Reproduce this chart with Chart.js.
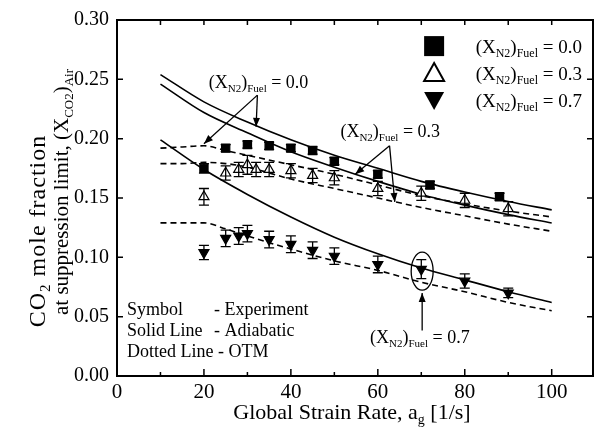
<!DOCTYPE html>
<html>
<head>
<meta charset="utf-8">
<script src="https://cdn.jsdelivr.net/npm/chart.js@4.4.0/dist/chart.umd.min.js"></script>
<style>
  html, body { margin: 0; padding: 0; background: #fff; }
</style>
</head>
<body>
<canvas id="chart" width="600" height="431"></canvas>
<script>
// Model curves (adiabatic = solid, OTM = dashed)
const strainAdi = [10, 20, 30, 40, 50, 60, 70, 80, 90, 100];
const adi00 = [0.254, 0.231, 0.214, 0.199, 0.186, 0.175, 0.164, 0.155, 0.147, 0.140];
const adi03 = [0.246, 0.222, 0.205, 0.189, 0.176, 0.164, 0.153, 0.144, 0.136, 0.129];
const adi07 = [0.199, 0.174, 0.153, 0.134, 0.117, 0.103, 0.091, 0.081, 0.071, 0.062];

const strainOtm = [10, 15, 20, 25, 30, 40, 50, 60, 70, 80, 90, 100];
const otm00 = [0.192, 0.193, 0.194, 0.190, 0.186, 0.178, 0.170, 0.161, 0.152, 0.145, 0.139, 0.134];
const otm03 = [0.179, 0.179, 0.180, 0.179, 0.176, 0.166, 0.158, 0.150, 0.142, 0.135, 0.128, 0.122];
const otm07 = [0.129, 0.129, 0.129, 0.124, 0.118, 0.107, 0.097, 0.089, 0.079, 0.071, 0.062, 0.055];

// Experiments
const exp00X = [20, 25, 30, 35, 40, 45, 50, 60, 72, 88];
const exp00Y = [0.175, 0.192, 0.195, 0.194, 0.192, 0.190, 0.181, 0.170, 0.161, 0.151];
const exp00Err = [0.004, 0.003, 0.003, 0.003, 0.003, 0.003, 0.003, 0.003, 0.003, 0.003];

const exp03X = [20, 25, 28, 30, 32, 35, 40, 45, 50, 60, 70, 80, 90];
const exp03Y = [0.151, 0.171, 0.174, 0.178, 0.174, 0.174, 0.173, 0.169, 0.167, 0.158, 0.154, 0.148, 0.141];
const exp03Err = [0.007, 0.006, 0.006, 0.008, 0.006, 0.006, 0.006, 0.006, 0.006, 0.006, 0.006, 0.006, 0.006];

const exp07X = [20, 25, 28, 30, 35, 40, 45, 50, 60, 70, 80, 90];
const exp07Y = [0.104, 0.116, 0.118, 0.120, 0.115, 0.111, 0.106, 0.101, 0.094, 0.090, 0.080, 0.070];
const exp07Err = [0.006, 0.007, 0.007, 0.007, 0.007, 0.007, 0.007, 0.007, 0.007, 0.008, 0.006, 0.004];

const legendLabels = ['0.0', '0.3', '0.7'];

const SERIF = '"Liberation Serif", "DejaVu Serif", serif';
const toXY = (xs, ys) => xs.map((x, i) => ({ x: x, y: ys[i] }));

const lineSet = (xs, ys, dashed) => ({
    type: 'line', data: toXY(xs, ys), borderColor: '#000', borderWidth: 1.6,
    borderDash: dashed ? [6, 4] : [], pointRadius: 0, fill: false,
    cubicInterpolationMode: 'monotone', order: 2
});
const markSet = (xs, ys, errs, style, rot, fill, r) => ({
    type: 'scatter', data: toXY(xs, ys), errs: errs, pointStyle: style, rotation: rot,
    pointRadius: r, pointHoverRadius: r, pointBackgroundColor: fill, pointBorderColor: '#000',
    pointBorderWidth: 1.2, showLine: false, order: 0
});

// text with subscripts: parts = [[text, isSub], ...]
function rich(ctx, parts, x, y, size, align) {
    const sub = Math.round(size * 0.62);
    let w = 0;
    parts.forEach(p => { ctx.font = (p[1] ? sub : size) + 'px ' + SERIF; w += ctx.measureText(p[0]).width; });
    let cx = align === 'center' ? x - w / 2 : x;
    ctx.textAlign = 'left';
    ctx.textBaseline = 'alphabetic';
    parts.forEach(p => {
        ctx.font = (p[1] ? sub : size) + 'px ' + SERIF;
        ctx.fillText(p[0], cx, p[1] ? y + size * 0.22 : y);
        cx += ctx.measureText(p[0]).width;
    });
}
const fuelLabel = v => [['(X', false], ['N2', true], [')', false], ['Fuel', true], [' = ' + v, false]];

function arrowHead(ctx, x1, y1, x2, y2) {
    const a = Math.atan2(y2 - y1, x2 - x1), L = 9, W = 3.5;
    ctx.beginPath();
    ctx.moveTo(x2, y2);
    ctx.lineTo(x2 - L * Math.cos(a) + W * Math.sin(a), y2 - L * Math.sin(a) - W * Math.cos(a));
    ctx.lineTo(x2 - L * Math.cos(a) - W * Math.sin(a), y2 - L * Math.sin(a) + W * Math.cos(a));
    ctx.closePath();
    ctx.fill();
}

const decor = {
    id: 'decor',
    afterDatasetsDraw(chart) {
        const ctx = chart.ctx, xs = chart.scales.x, ys = chart.scales.y, a = chart.chartArea;
        const px = v => xs.getPixelForValue(v), py = v => ys.getPixelForValue(v);
        ctx.save();
        ctx.strokeStyle = '#000';
        ctx.fillStyle = '#000';

        // error bars
        ctx.lineWidth = 1.3;
        chart.data.datasets.forEach(ds => {
            if (!ds.errs) return;
            ds.data.forEach((p, i) => {
                const x = px(p.x), y1 = py(p.y - ds.errs[i]), y2 = py(p.y + ds.errs[i]);
                ctx.beginPath();
                ctx.moveTo(x, y1); ctx.lineTo(x, y2);
                ctx.moveTo(x - 5, y1); ctx.lineTo(x + 5, y1);
                ctx.moveTo(x - 5, y2); ctx.lineTo(x + 5, y2);
                ctx.stroke();
            });
        });

        // frame and inward ticks
        ctx.lineWidth = 2;
        ctx.strokeRect(a.left, a.top, a.right - a.left, a.bottom - a.top);
        ctx.lineWidth = 1.5;
        ctx.beginPath();
        for (let v = 10; v <= 100; v += 10) {
            const major = v % 20 === 0, x = px(v);
            ctx.moveTo(x, a.bottom); ctx.lineTo(x, a.bottom - (major ? 7 : 4));
            ctx.moveTo(x, a.top); ctx.lineTo(x, a.top + 5);
        }
        for (let k = 1; k < 6; k++) {
            const y = py(k * 0.05);
            ctx.moveTo(a.left, y); ctx.lineTo(a.left + 6, y);
            ctx.moveTo(a.right, y); ctx.lineTo(a.right - 6, y);
        }
        ctx.stroke();

        // annotations
        ctx.lineWidth = 1.3;
        const arrow = (x1, y1, x2, y2) => {
            const X1 = px(x1), Y1 = py(y1), X2 = px(x2), Y2 = py(y2);
            ctx.beginPath(); ctx.moveTo(X1, Y1); ctx.lineTo(X2, Y2); ctx.stroke();
            arrowHead(ctx, X1, Y1, X2, Y2);
        };
        rich(ctx, fuelLabel('0.0'), px(21.1), py(0.248) + 6, 18, 'left');
        arrow(32.3, 0.2367, 20, 0.1958);
        arrow(32.3, 0.2367, 32, 0.2100);
        rich(ctx, fuelLabel('0.3'), px(51.4), py(0.2067) + 6, 18, 'left');
        arrow(62.7, 0.1940, 54.8, 0.1700);
        arrow(62.7, 0.1940, 63.9, 0.1467);
        rich(ctx, fuelLabel('0.7'), px(58.2), py(0.0325) + 6, 18, 'left');
        arrow(70.2, 0.0383, 70.2, 0.0700);
        ctx.beginPath();
        ctx.ellipse(px(70.2), py(0.0883), 11, 19, 0, 0, Math.PI * 2);
        ctx.stroke();

        // method key
        ctx.font = '18px ' + SERIF;
        ctx.textBaseline = 'middle';
        ctx.textAlign = 'left';
        ctx.fillText('Symbol', px(2.3), py(0.0558));
        ctx.fillText('- Experiment', px(22.3), py(0.0558));
        ctx.fillText('Solid Line', px(2.3), py(0.0379));
        ctx.fillText('- Adiabatic', px(22.3), py(0.0379));
        ctx.fillText('Dotted Line - OTM', px(2.3), py(0.0200));

        // legend
        const lx = px(72.95);
        legendLabels.forEach((lab, i) => {
            const y = py(0.278 - i * 0.02275);
            ctx.beginPath();
            if (i === 0) {
                ctx.rect(lx - 10, y - 10, 20, 20);
                ctx.fill();
            } else if (i === 1) {
                ctx.moveTo(lx, y - 10); ctx.lineTo(lx + 10, y + 8); ctx.lineTo(lx - 10, y + 8); ctx.closePath();
                ctx.lineWidth = 2; ctx.stroke();
            } else {
                ctx.moveTo(lx, y + 10); ctx.lineTo(lx + 10, y - 8); ctx.lineTo(lx - 10, y - 8); ctx.closePath();
                ctx.fill();
            }
            rich(ctx, fuelLabel(lab), px(82.5), y + 7, 19, 'left');
        });
        ctx.restore();
    },
    afterDraw(chart) {
        const ctx = chart.ctx;
        ctx.save();
        ctx.fillStyle = '#000';
        rich(ctx, [['Global Strain Rate, a', false], ['g', true], [' [1/s]', false]], 352, 419, 22, 'center');
        ctx.restore();

        ctx.save();
        ctx.fillStyle = '#000';
        ctx.translate(45, 231);
        ctx.rotate(-Math.PI / 2);
        ctx.letterSpacing = '1px';
        rich(ctx, [['CO', false], ['2', true], [' mole fraction', false]], 0, 0, 24, 'center');
        ctx.restore();

        ctx.save();
        ctx.fillStyle = '#000';
        ctx.translate(68, 192);
        ctx.rotate(-Math.PI / 2);
        rich(ctx, [['at suppression limit, (X', false], ['CO2', true], [')', false], ['Air', true]], 0, 0, 21, 'center');
        ctx.restore();
    }
};

new Chart(document.getElementById('chart').getContext('2d'), {
    data: {
        datasets: [
            lineSet(strainAdi, adi00, false),
            lineSet(strainAdi, adi03, false),
            lineSet(strainAdi, adi07, false),
            lineSet(strainOtm, otm00, true),
            lineSet(strainOtm, otm03, true),
            lineSet(strainOtm, otm07, true),
            markSet(exp00X, exp00Y, exp00Err, 'rect', 0, '#000', 5.8),
            markSet(exp03X, exp03Y, exp03Err, 'triangle', 0, '#fff', 5.8),
            markSet(exp07X, exp07Y, exp07Err, 'triangle', 180, '#000', 5.8)
        ]
    },
    plugins: [decor],
    options: {
        responsive: false, animation: false, devicePixelRatio: 1,
        layout: { padding: { top: 16, right: 0, left: 0, bottom: 0 } },
        plugins: { legend: { display: false }, tooltip: { enabled: false } },
        scales: {
            x: {
                type: 'linear', min: 0, max: 109.5,
                afterFit: s => { s.height = 55; },
                grid: { display: false, drawTicks: false }, border: { display: false },
                ticks: { stepSize: 20, includeBounds: false, padding: 4, color: '#000', font: { family: SERIF, size: 21 }, maxRotation: 0 }
            },
            y: {
                type: 'linear', min: 0, max: 0.30,
                afterFit: s => { s.width = 117; },
                grid: { display: false, drawTicks: false }, border: { display: false },
                ticks: { stepSize: 0.05, padding: 8, color: '#000', font: { family: SERIF, size: 20 }, callback: v => Number(v).toFixed(2) }
            }
        }
    }
});
</script>
</body>
</html>
